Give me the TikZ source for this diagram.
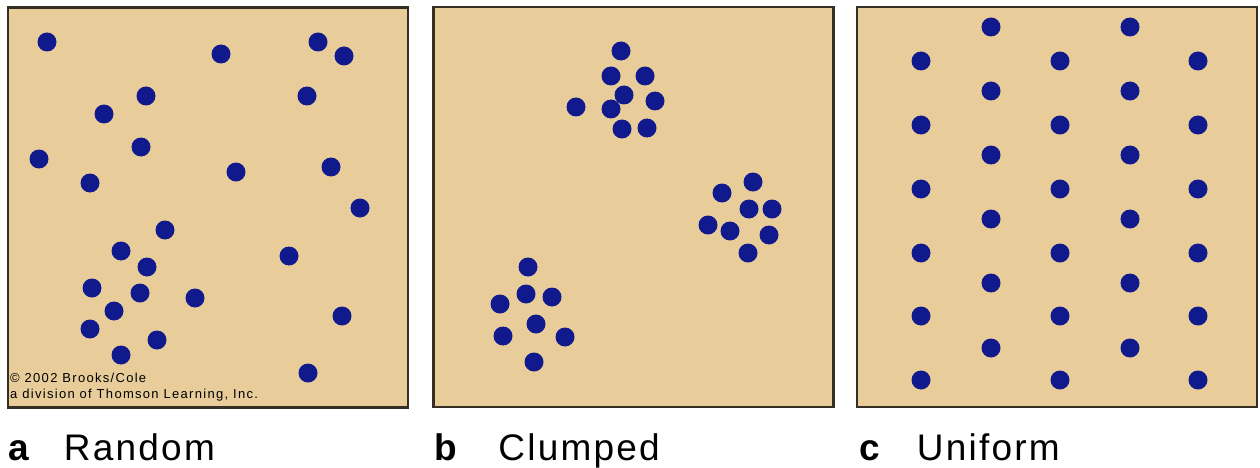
\documentclass[tikz,border=0pt]{standalone}
\usepackage{fontspec}
\setmainfont{Liberation Sans}
\newfontfamily\captionfont[LetterSpace=6]{Liberation Sans}
\newfontfamily\creditfont[LetterSpace=10]{Liberation Sans}
\usepackage{tikz}
\definecolor{sand}{RGB}{232,205,155}
\definecolor{dotblue}{RGB}{16,26,140}
\definecolor{frame}{RGB}{52,46,36}

\tikzset{
  panel/.style={draw=frame, fill=sand, line width=2.5pt, minimum width=400pt, minimum height=400pt, inner sep=0pt},
  spot/.style={fill=dotblue},
  letter/.style={font=\fontsize{37}{40}\selectfont\bfseries, inner sep=0pt, anchor=base west},
  word/.style={font=\captionfont\fontsize{37}{40}\selectfont, inner sep=0pt, anchor=base west},
  credit/.style={font=\creditfont\fontsize{13}{15}\selectfont, inner sep=0pt, anchor=base west}
}

\begin{document}
\begin{tikzpicture}[x=1pt, y=-1pt]
\useasboundingbox (0,0) rectangle (1260,468);

% the three panels
\node[panel] (random) at (208,207.5) {};
\node[panel] (clumped) at (633.5,207) {};
\node[panel] (uniform) at (1057,207) {};

% a: random spacing
\foreach \x/\y in {47/42, 221/54, 318/42, 344/56, 146/96, 307/96, 104/114, 141/147,
  39/159, 90/183, 236/172, 331/167, 360/208, 165/230, 121/251, 147/267, 289/256,
  92/288, 140/293, 195/298, 114/311, 342/316, 90/329, 157/340, 121/355, 308/373}
  \fill[spot] (\x,\y) circle (9.5pt);

% b: clumped
\foreach \x/\y in {621/51, 611/76, 645/76, 624/95, 655/101, 576/107, 611/109, 622/129, 647/128,
  753/182, 722/193, 749/209, 772/209, 708/225, 730/231, 769/235, 748/253,
  528/267, 526/294, 552/297, 500/304, 536/324, 503/336, 565/337, 534/362}
  \fill[spot] (\x,\y) circle (9.5pt);

% c: uniform grid
\foreach \x in {921, 1060, 1198}
  \foreach \y in {61, 125, 189, 253, 316, 380}
    \fill[spot] (\x,\y) circle (9.5pt);
\foreach \x in {991, 1130}
  \foreach \y in {27, 91, 155, 219, 283, 348}
    \fill[spot] (\x,\y) circle (9.5pt);

% credit line
\node[credit] (copy1) at (10,382) {© 2002 Brooks/Cole};
\node[credit] (copy2) at (10,398) {a division of Thomson Learning, Inc.};

% captions
\node[letter] (la) at ([xshift=2pt, yshift=-52pt]random.south west) {a};
\node[word] (wa) at ([xshift=55pt]la.base west) {Random};
\node[letter] (lb) at ([xshift=2pt, yshift=-52pt]clumped.south west) {b};
\node[word] (wb) at ([xshift=64pt]lb.base west) {Clumped};
\node[letter] (lc) at ([xshift=4pt, yshift=-52pt]uniform.south west) {c};
\node[word] (wc) at ([xshift=57pt]lc.base west) {Uniform};
\end{tikzpicture}
\end{document}
